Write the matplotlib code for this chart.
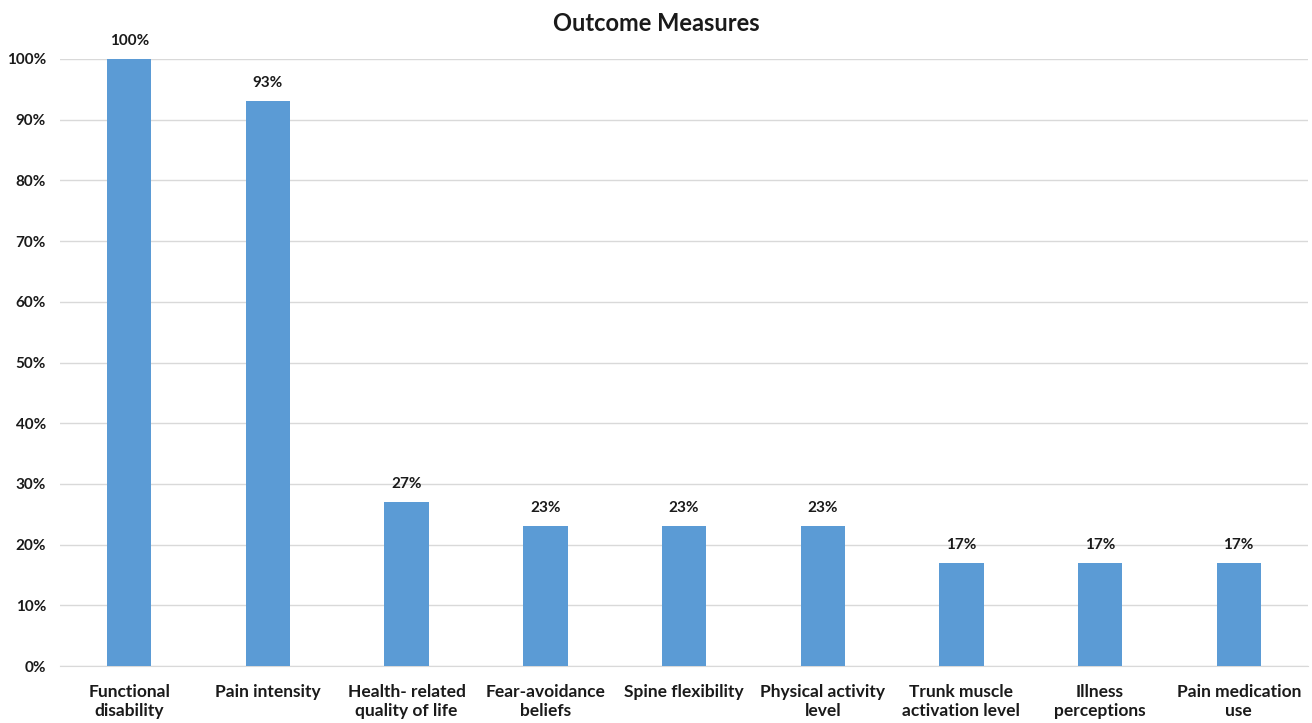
import matplotlib
matplotlib.use("Agg")
import matplotlib.pyplot as plt
from matplotlib.ticker import PercentFormatter

categories = ["Functional\ndisability", "Pain intensity", "Health- related\nquality of life",
              "Fear-avoidance\nbeliefs", "Spine flexibility", "Physical activity\nlevel",
              "Trunk muscle\nactivation level", "Illness\nperceptions", "Pain medication\nuse"]
values = [100, 93, 27, 23, 23, 23, 17, 17, 17]

plt.rcParams['font.family'] = ['Lato', 'DejaVu Sans']

fig = plt.figure(figsize=(13.12, 7.23), dpi=100)
ax = fig.add_axes([0.0457, 0.0788, 0.9513, 0.8396])

x = range(len(categories))
bars = ax.bar(x, values, width=0.32, color="#5B9BD5", zorder=3)

for b, v in zip(bars, values):
    ax.annotate(f"{v}%", (b.get_x() + b.get_width() / 2, v), xytext=(0, 8),
                textcoords="offset points", ha="center", va="bottom",
                fontsize=11, fontweight="bold", color="#1a1a1a")

ax.set_xlim(-0.5, len(categories) - 0.5)
ax.set_ylim(0, 100)
ax.set_yticks(range(0, 101, 10))
ax.yaxis.set_major_formatter(PercentFormatter(decimals=0))
ax.set_xticks(list(x))
ax.set_xticklabels(categories, fontsize=12.5, fontweight="bold", color="#1a1a1a")
for lab in ax.get_yticklabels():
    lab.set_fontsize(11)
    lab.set_fontweight("bold")
    lab.set_color("#1a1a1a")

ax.grid(axis="y", color="#D9D9D9", linewidth=1, zorder=0)
for s in ["top", "right", "left"]:
    ax.spines[s].set_visible(False)
ax.spines["bottom"].set_color("#D9D9D9")
ax.tick_params(axis="both", length=0)
ax.tick_params(axis="x", pad=13)
ax.tick_params(axis="y", pad=10)

fig.text(0.5, 0.967, "Outcome Measures", ha="center", va="center",
         fontsize=17, fontweight="bold", color="#1a1a1a")

fig.savefig("out.png", dpi=100)
